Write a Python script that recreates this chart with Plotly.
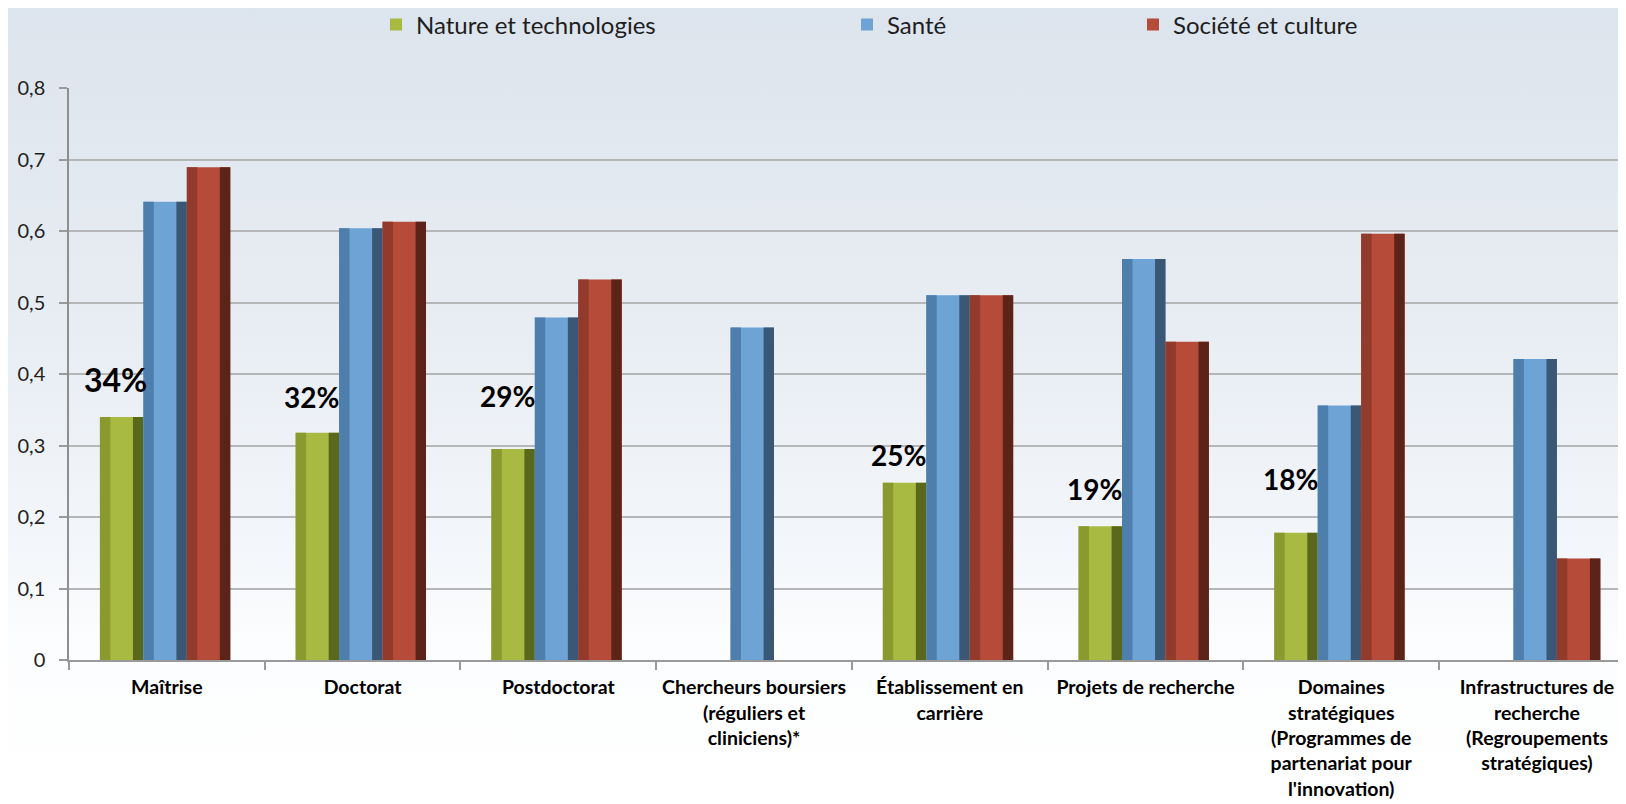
import base64
import plotly.graph_objects as go

# ---------------- data ----------------
categories = [
    "Maîtrise",
    "Doctorat",
    "Postdoctorat",
    "Chercheurs boursiers (réguliers et cliniciens)*",
    "Établissement en carrière",
    "Projets de recherche",
    "Domaines stratégiques (Programmes de partenariat pour l'innovation)",
    "Infrastructures de recherche (Regroupements stratégiques)",
]
tick_labels = [
    "Maîtrise",
    "Doctorat",
    "Postdoctorat",
    "Chercheurs boursiers<br>(réguliers et<br>cliniciens)*",
    "Établissement en<br>carrière",
    "Projets de recherche",
    "Domaines<br>stratégiques<br>(Programmes de<br>partenariat pour<br>l'innovation)",
    "Infrastructures de<br>recherche<br>(Regroupements<br>stratégiques)",
]
series_names = ["Nature et technologies", "Santé", "Société et culture"]
nature = [0.340, 0.318, 0.295, None, 0.248, 0.187, 0.178, None]
sante = [0.641, 0.604, 0.479, 0.465, 0.510, 0.561, 0.356, 0.421]
societe = [0.689, 0.613, 0.532, None, 0.510, 0.445, 0.596, 0.142]
nature_labels = ["34%", "32%", "29%", None, "25%", "19%", "18%", None]
y_tick_vals = [0, 0.1, 0.2, 0.3, 0.4, 0.5, 0.6, 0.7, 0.8]
y_tick_text = ["0", "0,1", "0,2", "0,3", "0,4", "0,5", "0,6", "0,7", "0,8"]

# ---------------- styling ----------------
# page body has an 8px margin; the figure is sized to fill the rest
BODY = 8
W, H = 1626 - BODY, 804 - BODY
ML, MR, MT, MB = 69 - BODY, 0, 88 - BODY, 143.5
FONT = "Lato"

bar_w = 0.222
offsets = [-0.342, -0.120, 0.102]
palette = [
    # left edge, main, right (shadow)
    ("#8a9a2e", "#a8ba42", "#5a681e"),
    ("#4e7eac", "#6ea3d6", "#3a5876"),
    ("#923a2c", "#b74b3a", "#5c2419"),
]
label_yshift = [37, 36, 53, None, 28, 37, 54, None]
label_size = [32, 28, 28, None, 28, 28, 28, None]

fig = go.Figure()
all_series = [nature, sante, societe]
legend_ids = ["legend", "legend2", "legend3"]
for k, (name, vals) in enumerate(zip(series_names, all_series)):
    left_c, main_c, dark_c = palette[k]
    fig.add_trace(go.Bar(
        x=categories, y=vals, name=name, offset=offsets[k], width=bar_w,
        marker=dict(color=main_c, line=dict(width=0)),
        legend=legend_ids[k], showlegend=True,
    ))
    fig.add_trace(go.Bar(
        x=categories, y=vals, offset=offsets[k], width=bar_w * 0.24,
        marker=dict(color=left_c, line=dict(width=0)),
        showlegend=False, hoverinfo="skip",
    ))
    fig.add_trace(go.Bar(
        x=categories, y=vals, offset=offsets[k] + bar_w * 0.76, width=bar_w * 0.24,
        marker=dict(color=dark_c, line=dict(width=0)),
        showlegend=False, hoverinfo="skip",
    ))

annotations = []
for i, txt in enumerate(nature_labels):
    if txt is None:
        continue
    annotations.append(dict(
        x=categories[i], y=nature[i], xref="x", yref="y",
        text=f"<b>{txt}</b>",
        showarrow=False, xshift=-51, yshift=label_yshift[i],
        xanchor="center", yanchor="middle",
        font=dict(family=FONT, size=label_size[i], color="#000000"),
    ))

# gradient background as an SVG image
svg = (
    f'<svg xmlns="http://www.w3.org/2000/svg" width="{W}" height="{H}" '
    f'viewBox="0 0 {W} {H}" preserveAspectRatio="none">'
    '<defs><linearGradient id="g" x1="0" y1="0" x2="0" y2="1">'
    '<stop offset="0" stop-color="#dce4ed"/>'
    '<stop offset="0.08" stop-color="#dfe6ee"/>'
    '<stop offset="0.4" stop-color="#e8edf3"/>'
    '<stop offset="0.68" stop-color="#f3f6fa"/>'
    '<stop offset="0.8" stop-color="#fcfdfe"/>'
    '<stop offset="1" stop-color="#ffffff"/>'
    '</linearGradient></defs>'
    f'<rect x="0" y="0" width="{W}" height="{H}" fill="url(#g)"/></svg>'
)
src = "data:image/svg+xml;base64," + base64.b64encode(svg.encode()).decode()
pw, ph = W - ML - MR, H - MT - MB

fig.update_layout(
    width=W, height=H,
    margin=dict(l=ML, r=MR, t=MT, b=MB, autoexpand=False),
    barmode="overlay",
    paper_bgcolor="#ffffff",
    plot_bgcolor="rgba(0,0,0,0)",
    font=dict(family=FONT, color="#222222"),
    images=[dict(
        source=src, xref="paper", yref="paper",
        x=-ML / pw, y=1 + MT / ph, sizex=W / pw, sizey=H / ph,
        sizing="stretch", xanchor="left", yanchor="top", layer="below",
    )],
    annotations=annotations,
    xaxis=dict(
        type="category", range=[-0.5, 7.455],
        tickmode="array", tickvals=categories, ticktext=tick_labels,
        tickangle=0,
        tickson="boundaries", ticks="outside", ticklen=8, tickwidth=1.5,
        tickcolor="#9a9a9a",
        showline=True, linecolor="#9a9a9a", linewidth=2,
        showgrid=False, zeroline=False,
        tickfont=dict(family=FONT, size=19.5, color="#000000", weight=700),
        ticklabelstandoff=9,
        fixedrange=True,
    ),
    yaxis=dict(
        range=[0, 0.8], tickmode="array", tickvals=y_tick_vals, ticktext=y_tick_text,
        ticks="outside", ticklen=8, tickwidth=1.5, tickcolor="#9a9a9a",
        showline=True, linecolor="#8f8f8f", linewidth=1.5,
        showgrid=True, gridcolor="#b4b6b8", gridwidth=1.8,
        zeroline=False,
        tickfont=dict(family=FONT, size=20, color="#222222"),
        ticklabelstandoff=10,
        fixedrange=True,
    ),
)

leg_common = dict(
    orientation="h", xref="container", yref="container",
    xanchor="left", yanchor="middle", y=1 - (25 - BODY) / H,
    bgcolor="rgba(0,0,0,0)", borderwidth=0,
    font=dict(family=FONT, size=24, color="#1e1e1e"),
)
fig.update_layout(
    legend=dict(x=(376 - BODY) / W, **leg_common),
    legend2=dict(x=(847 - BODY) / W, **leg_common),
    legend3=dict(x=(1133 - BODY) / W, **leg_common),
)

fig.write_html("out.html")
